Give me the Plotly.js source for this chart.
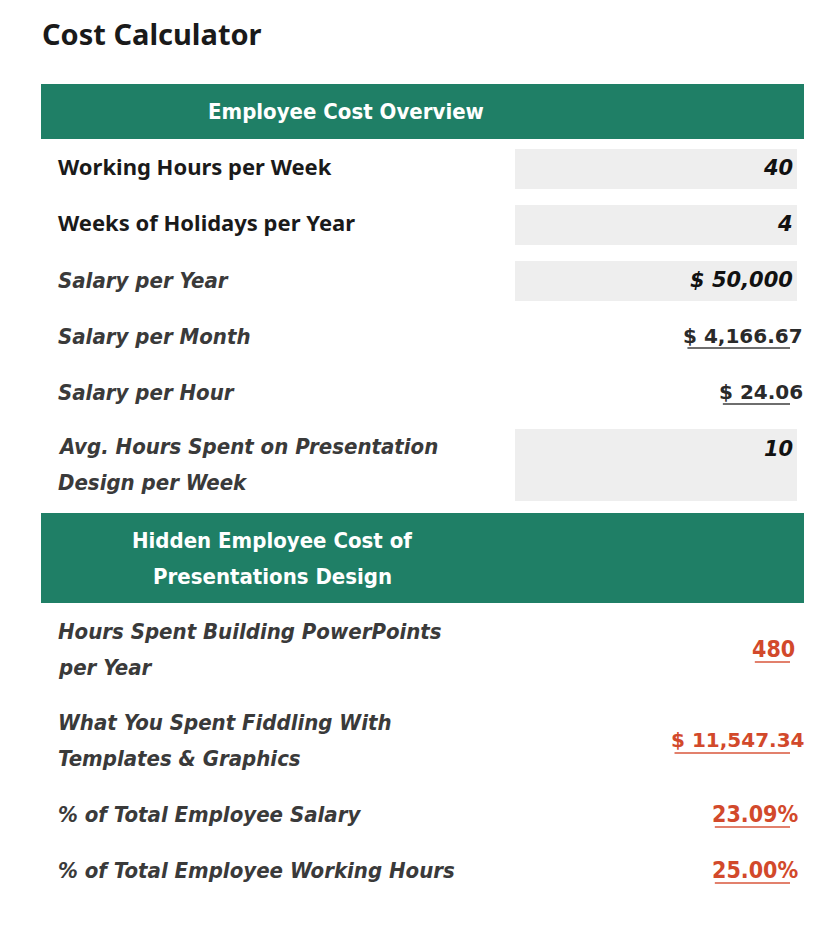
<!DOCTYPE html>
<html>
<head>
<meta charset="utf-8">
<script src="https://cdn.plot.ly/plotly-3.0.1.min.js"></script>
<style>
  html, body { margin: 0; padding: 0; background: #ffffff; }
  #chart { width: 840px; height: 947px; }
</style>
</head>
<body>
<div id="chart"></div>
<script>
// table content
const titleText = "Cost Calculator";
const overviewHeader = ["Employee Cost Overview"];
const overviewLabels = [
  ["Working Hours per Week"],
  ["Weeks of Holidays per Year"],
  ["Salary per Year"],
  ["Salary per Month"],
  ["Salary per Hour"],
  ["Avg. Hours Spent on Presentation", "Design per Week"]
];
const overviewValues = ["40", "4", "$ 50,000", "$ 4,166.67", "$ 24.06", "10"];
const overviewIsInput = [true, true, true, false, false, true];
const overviewPlainLabel = [true, true, false, false, false, false];

const hiddenHeader = ["Hidden Employee Cost of", "Presentations Design"];
const hiddenLabels = [
  ["Hours Spent Building PowerPoints", "per Year"],
  ["What You Spent Fiddling With", "Templates & Graphics"],
  ["% of Total Employee Salary"],
  ["% of Total Employee Working Hours"]
];
const hiddenValues = ["480", "$ 11,547.34", "23.09%", "25.00%"];

// layout geometry (pixels, y down)
const W = 840, H = 947;
const tableLeft = 41, tableRight = 804;
const boxLeft = 515, boxRight = 797;
const lineGap = 36;
const green = "#1f7f66";
const red = "#d2492b";

const narrow = "'DejaVu Sans Condensed', sans-serif";
const plain = "'Noto Sans', 'DejaVu Sans', sans-serif";
const wide = "'DejaVu Sans', sans-serif";

const ctx = document.createElement("canvas").getContext("2d");
function textWidth(str, font) {
  ctx.font = font;
  return ctx.measureText(str).width;
}

const shapes = [];
const annotations = [];

function txt(x, y, text, opts) {
  annotations.push(Object.assign({
    x: x, y: y, xref: "x", yref: "y", text: text, showarrow: false,
    xanchor: "left", yanchor: "middle"
  }, opts));
}

function rect(x0, y0, x1, y1, color) {
  shapes.push({ type: "rect", xref: "x", yref: "y", x0: x0, x1: x1, y0: y0, y1: y1,
    fillcolor: color, line: { width: 0 }, layer: "below" });
}

function underline(x0, x1, y, color) {
  shapes.push({ type: "line", xref: "x", yref: "y", x0: x0, x1: x1, y0: y, y1: y,
    line: { color: color, width: 2 } });
}

// title
txt(40, 33, "<b>" + titleText + "</b>", { font: { family: plain, size: 29, color: "#1a1a1a" } });

function header(y0, height, lines, cx) {
  rect(tableLeft, y0, tableRight, y0 + height, green);
  const mid = y0 + height / 2;
  lines.forEach((line, i) => {
    txt(cx, mid + (i - (lines.length - 1) / 2) * lineGap, "<b>" + line + "</b>",
      { xanchor: "center", font: { family: narrow, size: 22, color: "#ffffff" } });
  });
}

function labelLines(lines, mid, plainStyle) {
  lines.forEach((line, i) => {
    const y = mid + (i - (lines.length - 1) / 2) * lineGap;
    if (plainStyle) {
      txt(56, y - 2, "<b>" + line + "</b>", { font: { family: plain, size: 22, color: "#1a1a1a" } });
    } else {
      txt(56, y, "<b><i>" + line + "</i></b>", { font: { family: narrow, size: 22, color: "#3a3a3a" } });
    }
  });
}

// section 1
header(84, 55, overviewHeader, 346);
const overviewHeights = [56, 56, 56, 56, 56, 88];
let rowTop = 140;
overviewLabels.forEach((lines, i) => {
  const h = overviewHeights[i];
  const mid = rowTop + h / 2;
  labelLines(lines, mid, overviewPlainLabel[i]);
  const v = overviewValues[i];
  if (overviewIsInput[i]) {
    rect(boxLeft, rowTop + 9, boxRight, rowTop + h - 7, "#eeeeee");
    const vy = lines.length > 1 ? mid - lineGap / 2 + 3 : mid;
    txt(795, vy, "<b><i>" + v + "</i></b>", { xanchor: "right", font: { family: wide, size: 21, color: "#111111" } });
  } else {
    const right = 805;
    const w = textWidth(v, "bold 20px 'DejaVu Sans', sans-serif");
    txt(right, mid, "<b>" + v + "</b>", { xanchor: "right", font: { family: wide, size: 20, color: "#2a2a2a" } });
    underline(right - w + 2, Math.min(right, 790), mid + 12, "#6e6e6e");
  }
  rowTop += h;
});

// section 2
header(513, 90, hiddenHeader, 272);
const hiddenHeights = [90, 92, 56, 56];
const hiddenFonts = [narrow, wide, narrow, narrow];
const hiddenSizes = [23, 20, 23, 23];
const hiddenRight = [797, 807, 800, 800];
rowTop = 604;
hiddenLabels.forEach((lines, i) => {
  const h = hiddenHeights[i];
  const mid = rowTop + h / 2;
  labelLines(lines, mid, false);
  const v = hiddenValues[i];
  const right = hiddenRight[i];
  const w = textWidth(v, "bold " + hiddenSizes[i] + "px " + hiddenFonts[i]);
  txt(right, mid, "<b>" + v + "</b>", { xanchor: "right", font: { family: hiddenFonts[i], size: hiddenSizes[i], color: red } });
  underline(right - w + 1, Math.min(right - 2, 790), mid + 13, "#e2806c");
  rowTop += h;
});

const layout = {
  width: W,
  height: H,
  margin: { l: 0, r: 0, t: 0, b: 0 },
  paper_bgcolor: "#ffffff",
  plot_bgcolor: "#ffffff",
  showlegend: false,
  xaxis: { range: [0, W], visible: false, fixedrange: true },
  yaxis: { range: [H, 0], visible: false, fixedrange: true },
  shapes: shapes,
  annotations: annotations
};

Plotly.newPlot("chart", [{ type: "scatter", x: [], y: [], mode: "markers", hoverinfo: "skip" }], layout,
  { staticPlot: true, displayModeBar: false });
</script>
</body>
</html>
